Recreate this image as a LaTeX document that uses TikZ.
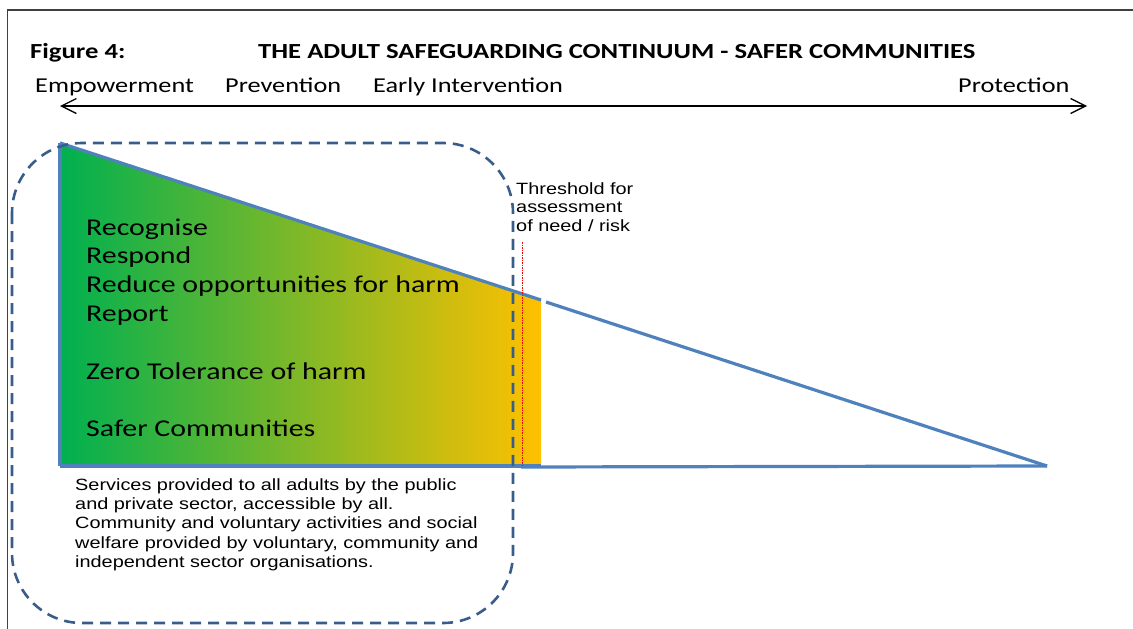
\documentclass[tikz,border=0pt]{standalone}
\usepackage{fontspec}
\setmainfont{Carlito}
\newfontfamily\calf[FakeStretch=1.24]{Carlito}
\newfontfamily\arf[FakeStretch=1.22]{Liberation Sans}
\usetikzlibrary{arrows.meta}
\definecolor{triblue}{HTML}{4F81BD}
\definecolor{dashblue}{HTML}{385D8A}
\definecolor{gstart}{HTML}{00B050}
\definecolor{gend}{HTML}{FFC000}
\definecolor{framegray}{HTML}{404040}
\tikzset{
  lbl/.style={anchor=base west, inner sep=0pt, font=\calf\fontsize{21.2}{25}\selectfont},
  ttl/.style={anchor=base west, inner sep=0pt, font=\calf\bfseries\fontsize{21.5}{25}\selectfont},
  item/.style={anchor=base west, inner sep=0pt, font=\calf\fontsize{24.1}{28}\selectfont},
  small/.style={anchor=base west, inner sep=0pt, align=left, font=\arf\fontsize{16.3}{18.8}\selectfont},
  triline/.style={draw=triblue, line width=3.2pt},
  zone/.style={draw=dashblue, line width=2.6pt, dash pattern=on 11pt off 7pt, rounded corners=70pt},
  thresh/.style={draw=red, line width=0.9pt, dash pattern=on 1.5pt off 1pt},
  frame/.style={draw=framegray, line width=1.6pt}
}
\begin{document}
\begin{tikzpicture}[x=1pt,y=-1pt]
\useasboundingbox (0,0) rectangle (1133,629);
% frame
\coordinate (fbl) at (7.5,629);
\coordinate (ftl) at (7.5,10);
\coordinate (ftr) at (1133,10);
\draw[frame] (fbl) -- (ftl) -- (ftr);
% titles
\node[ttl] (fig) at (30,58) {Figure 4:};
\node[ttl] (title) at (258,58) {THE ADULT SAFEGUARDING CONTINUUM - SAFER COMMUNITIES};
% continuum labels
\node[lbl] (emp) at (35,92) {Empowerment};
\node[lbl] (prev) at (225,92) {Prevention};
\node[lbl] (early) at (373,92) {Early Intervention};
\node[lbl] (prot) at (958,92) {Protection};
\coordinate (aL) at (60,106);
\coordinate (aR) at (1087,106);
\draw[<->, >={Straight Barb[length=15pt,width=15pt]}, line width=1.3pt] (aL) -- (aR);
% triangle
\coordinate (A) at (60,143);
\coordinate (B) at (60,466);
\coordinate (C) at (1047,466);
\coordinate (P) at (541,300);
\coordinate (Q) at (541,466);
\coordinate (P2) at (546,302);
\coordinate (Q2) at (521,467);
\shade[left color=gstart, right color=gend] (A) -- (P) -- (Q) -- (B) -- cycle;
\draw[triline] (A) -- (P);
\draw[triline] (P2) -- (C);
\draw[triline] (Q2) -- (C);
\draw[triline] (B) -- (Q);
\draw[draw=triblue, line width=4.5pt] (A) -- (B);
% dashed zone
\draw[zone] (12,143) rectangle (513,623);
% threshold line
\coordinate (t1) at (522,242);
\coordinate (t2) at (522,466);
\draw[thresh] (t1) -- (t2);
\node[small] (thr) at (516,231.7) {Threshold for\\assessment\\of need / risk};
% items
\node[item] (i1) at (86,235) {Recognise};
\node[item] (i2) at (86,263.5) {Respond};
\node[item] (i3) at (86,292) {Reduce opportunities for harm};
\node[item] (i4) at (86,321) {Report};
\node[item] (i5) at (86,379.5) {Zero Tolerance of harm};
\node[item] (i6) at (86,436.5) {Safer Communities};
% services text
\node[small, font=\arf\fontsize{16.3}{19.4}\selectfont] (serv) at (75,567.6) {Services provided to all adults by the public\\and private sector, accessible by all.\\Community and voluntary activities and social\\welfare provided by voluntary, community and\\independent sector organisations.};
\end{tikzpicture}
\end{document}
